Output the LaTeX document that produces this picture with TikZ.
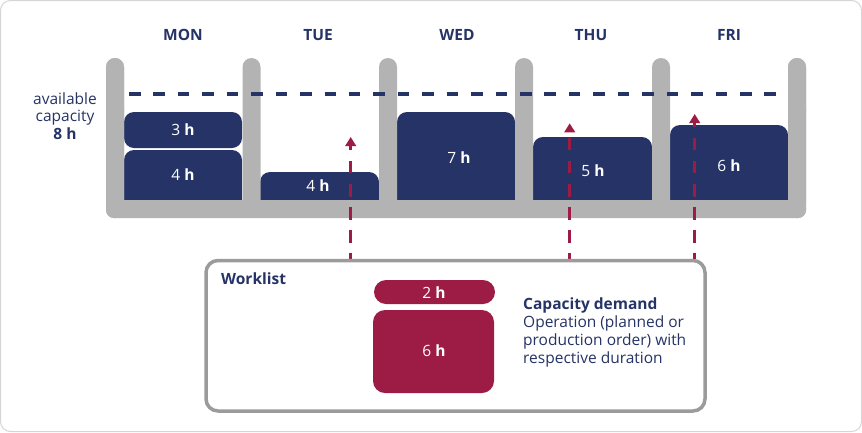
\documentclass[tikz,border=0pt]{standalone}
\usepackage{fontspec}
\setmainfont{Open Sans}
\usetikzlibrary{arrows.meta}
\definecolor{navy}{HTML}{253366}
\definecolor{tray}{HTML}{B3B3B3}
\definecolor{crim}{HTML}{9D1C45}
\definecolor{wlgray}{HTML}{9B9B9B}
\definecolor{framegray}{HTML}{D5D5D5}
\begin{document}
\begin{tikzpicture}[x=1pt,y=-1pt,
  daylabel/.style={font=\fontsize{15.5}{17}\selectfont\bfseries, text=navy},
  boxlabel/.style={font=\fontsize{15.5}{17}\selectfont, text=white},
  navybox/.style={fill=navy, rounded corners=10pt},
  redbox/.style={fill=crim, rounded corners=12pt},
  posts/.style={fill=tray, rounded corners=9pt},
  arr/.style={draw=crim, line width=3.5pt, dash pattern=on 12.4pt off 10.7pt, dash phase=6.8pt,
    -{Triangle[width=10.5pt,length=9pt]}},
  txt/.style={text=navy, font=\fontsize{15.5}{18}\selectfont, inner sep=0pt}
]
\useasboundingbox (0,0) rectangle (862,432);
\draw[framegray, line width=1pt, rounded corners=10pt] (0.5,0.5) rectangle (861.5,431.5);

% day labels
\node[daylabel] (mon) at (183,35) {MON};
\node[daylabel] (tue) at (318,35) {TUE};
\node[daylabel] (wed) at (457,35) {WED};
\node[daylabel] (thu) at (591,35) {THU};
\node[daylabel] (fri) at (729,35) {FRI};

% capacity boxes (bottom hidden by tray)
\path[navybox] (124,112) rectangle (242,148);
\path[navybox] (124,150) rectangle (242,214);
\path[navybox] (260,172) rectangle (379,214);
\path[navybox] (397,112) rectangle (515,214);
\path[navybox] (533,137) rectangle (652,214);
\path[navybox] (670,125) rectangle (788,214);

% tray
\path[posts, rounded corners=8pt] (106,200) rectangle (806,218);
\foreach \cx in {115,251.5,388,524,661,797}
  \path[posts] (\cx-9,212) -- (\cx-9,58) -- (\cx+9,58) -- (\cx+9,212) -- cycle;
\path[posts, rounded corners=8pt] (106,100) -- (106,218) -- (124,218) -- (124,100) -- cycle;
\path[posts, rounded corners=8pt] (788,100) -- (788,218) -- (806,218) -- (806,100) -- cycle;
\foreach \cx in {115,797}
  \path[posts] (\cx-9,120) -- (\cx-9,58) -- (\cx+9,58) -- (\cx+9,120) -- cycle;

% available capacity line
\coordinate (capl) at (129,94);
\coordinate (capr) at (776,94);
\draw[navy, line width=4pt, dash pattern=on 11.5pt off 12.94pt] (capl) -- (capr);

\node[txt, align=center, font=\fontsize{15.5}{17.5}\selectfont] (avail) at (65,116)
  {available\\capacity\\\textbf{8 h}};

% box labels
\node[boxlabel] (l3) at (183,130) {3 \textbf{h}};
\node[boxlabel] (l4a) at (183,175) {4 \textbf{h}};
\node[boxlabel] (l4b) at (318,186) {4 \textbf{h}};
\node[boxlabel] (l7) at (459,158) {7 \textbf{h}};
\node[boxlabel] (l5) at (593,171) {5 \textbf{h}};
\node[boxlabel] (l6) at (729,166) {6 \textbf{h}};

% arrows
\coordinate (t1) at (350.7,137);
\coordinate (t2) at (569.7,123.3);
\coordinate (t3) at (694.7,114);
\coordinate (b1) at (350.7,259);
\coordinate (b2) at (569.7,259);
\coordinate (b3) at (694.7,259);
\draw[arr] (b1) -- (t1);
\draw[arr] (b2) -- (t2);
\draw[arr] (b3) -- (t3);

% worklist
\draw[wlgray, line width=3.5pt, rounded corners=12pt] (206,260.5) rectangle (705,411);
\node[txt, anchor=west, font=\fontsize{15.5}{17}\selectfont\bfseries] (wl) at (221,279) {Worklist};
\path[redbox] (374,280) rectangle (495,304);
\path[redbox] (373,310) rectangle (494,393);
\node[boxlabel] (l2) at (434,293) {2 \textbf{h}};
\node[boxlabel] (l6r) at (434,351) {6 \textbf{h}};
\node[txt, anchor=west, align=left] (cap) at (523,332.5)
  {\textbf{Capacity demand}\\Operation (planned or\\production order) with\\respective duration};
\end{tikzpicture}
\end{document}
